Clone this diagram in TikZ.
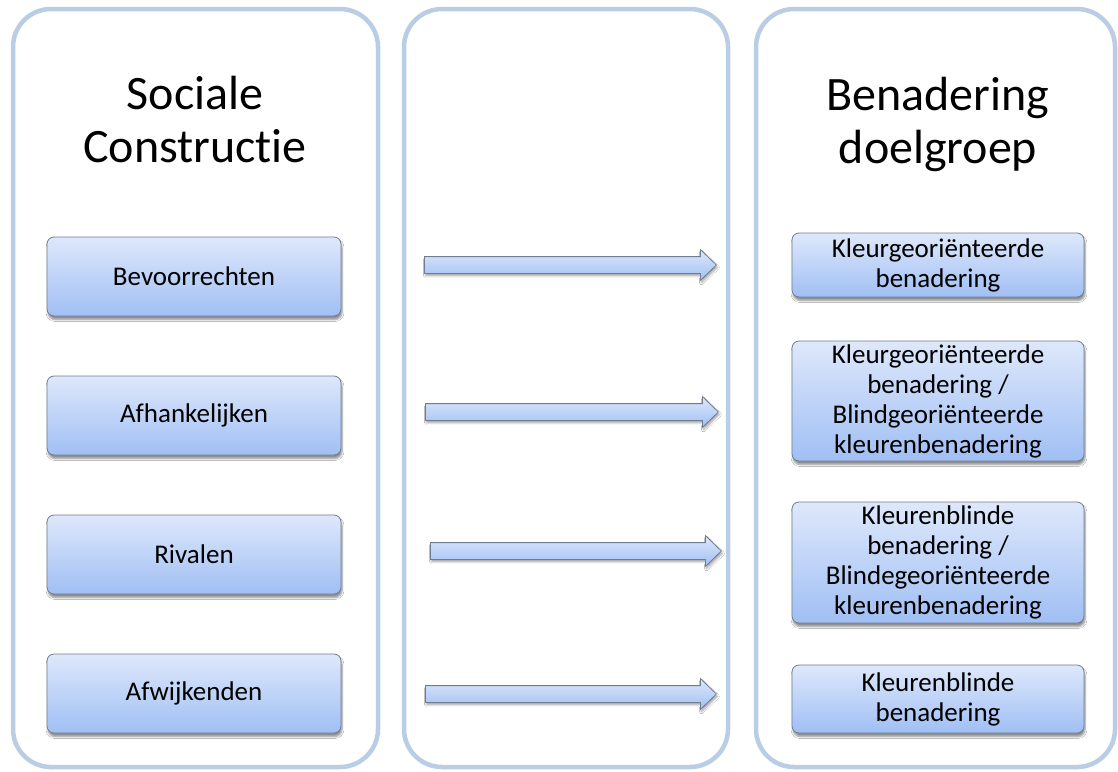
\documentclass[tikz,border=0pt]{standalone}
\usepackage{fontspec}
\setmainfont[Ligatures=NoCommon]{Carlito}
\usetikzlibrary{shapes.arrows,shadows.blur}
\definecolor{panelblue}{HTML}{B9CDE5}
\definecolor{boxtop}{HTML}{DEE8FB}
\definecolor{boxbot}{HTML}{A0BFF4}
\definecolor{boxline}{HTML}{6F7D8F}
\begin{document}
\begin{tikzpicture}[x=1pt,y=-1pt,
  panel/.style={draw=panelblue, line width=4.5pt, rounded corners=38pt,
    minimum width=#1, minimum height=758pt, inner sep=0pt},
  title/.style={align=center, font=\fontsize{48}{53}\selectfont},
  itembox/.style={draw=boxline, line width=0.8pt, rounded corners=7pt,
    top color=boxtop, bottom color=boxbot, minimum width=#1, inner sep=1pt,
    align=center, font=\fontsize{27}{30}\selectfont,
    blur shadow={shadow xshift=1pt, shadow yshift=-3.5pt, shadow blur steps=6, shadow opacity=45}},
  blockarrow/.style={single arrow, draw=boxline, line width=0.8pt,
    top color=boxtop, bottom color=boxbot, minimum height=#1,
    inner xsep=0pt, inner ysep=8pt, single arrow head extend=7pt,
    anchor=tail, single arrow tip angle=88,
    blur shadow={shadow xshift=1pt, shadow yshift=-2.5pt, shadow blur steps=5, shadow opacity=35}}
]
\useasboundingbox (0,0) rectangle (1118,771);
\fill[white] (0,0) rectangle (1118,771);

% panels
\node[panel=365pt] (pl) at (195.5,388) {};
\node[panel=324pt] (pm) at (566,388) {};
\node[panel=359pt] (pr) at (935.5,388) {};

% titles
\node[title] (tl) at (195,120) {Sociale\\Constructie};
\node[title] (tr) at (938,124) {Benadering\\doelgroep};

% left boxes
\node[itembox=294pt, minimum height=79pt] (l1) at (194,276.5) {Bevoorrechten};
\node[itembox=294pt, minimum height=79pt] (l2) at (194,415.5) {Afhankelijken};
\node[itembox=294pt, minimum height=79pt] (l3) at (194,554.5) {Rivalen};
\node[itembox=294pt, minimum height=79pt] (l4) at (194,693.5) {Afwijkenden};

% right boxes
\node[itembox=292pt, minimum height=64pt] (r1) at (938,265) {Kleurgeoriënteerde\\benadering};
\node[itembox=292pt, minimum height=120pt] (r2) at (938,401) {Kleurgeoriënteerde\\benadering /\\Blindgeoriënteerde\\kleurenbenadering};
\node[itembox=292pt, minimum height=121pt] (r3) at (938,562.5) {Kleurenblinde\\benadering /\\Blindegeoriënteerde\\kleurenbenadering};
\node[itembox=292pt, minimum height=68pt] (r4) at (938,699) {Kleurenblinde\\benadering};

% block arrows
\node[blockarrow=292pt] (a1) at (424,265) {};
\node[blockarrow=293pt] (a2) at (425,412) {};
\node[blockarrow=291pt] (a3) at (430,551) {};
\node[blockarrow=291pt] (a4) at (425,694) {};
\end{tikzpicture}
\end{document}
